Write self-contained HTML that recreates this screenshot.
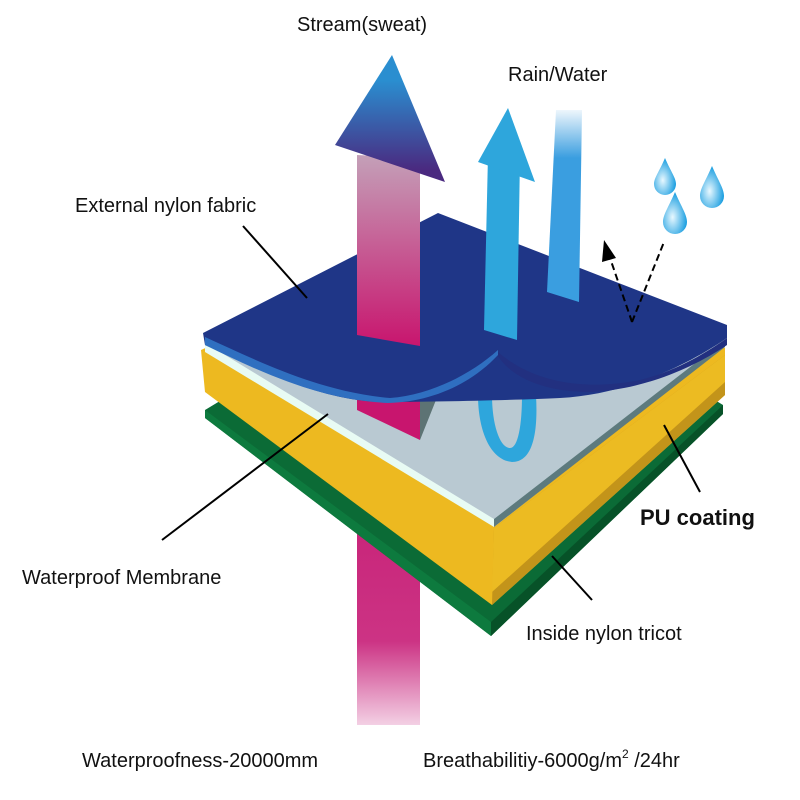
<!DOCTYPE html>
<html><head><meta charset="utf-8"><style>
body{margin:0;background:#fff}
svg{display:block}
text{font-family:"Liberation Sans",Arial,sans-serif;fill:#111}
</style></head><body>
<svg width="800" height="800" viewBox="0 0 800 800" xmlns="http://www.w3.org/2000/svg">
<defs>
<linearGradient id="pk" x1="0" y1="0" x2="0" y2="1">
<stop offset="0" stop-color="#c4a0b8"/><stop offset="1" stop-color="#c8156e"/></linearGradient>
<linearGradient id="pk2" x1="0" y1="390" x2="0" y2="725" gradientUnits="userSpaceOnUse">
<stop offset="0" stop-color="#c4156e"/><stop offset="0.75" stop-color="#cc3384"/><stop offset="1" stop-color="#f3d0e4"/></linearGradient>
<linearGradient id="hd" x1="0" y1="0" x2="0" y2="1">
<stop offset="0.2" stop-color="#2a8ed0"/><stop offset="0.9" stop-color="#4a2a80"/></linearGradient>
<linearGradient id="bl2" x1="0" y1="0" x2="0" y2="1">
<stop offset="0" stop-color="#eef6fc"/><stop offset="0.25" stop-color="#3a9ee0"/><stop offset="1" stop-color="#3a9ee0"/></linearGradient>
<radialGradient id="dr" cx="0.4" cy="0.6" r="0.6">
<stop offset="0" stop-color="#e8f8ff"/><stop offset="1" stop-color="#1a9ee0"/></radialGradient>
</defs>

<!-- pink shaft bottom -->
<rect x="357" y="390" width="63" height="335" fill="url(#pk2)"/>

<!-- green layer -->
<polygon points="205,410 470,250 723,405 723,414 491,636 205,418" fill="#0b6b36"/>
<polygon points="205,410 491,622 723,405 723,412 491,636 205,418" fill="#0d7a3e"/>
<polygon points="491,622 723,405 723,414 491,636" fill="#075228"/>

<!-- yellow layer -->
<polygon points="201,350 470,230 725,348 725,395 492,605 205,392" fill="#edb920"/>
<polygon points="494,528 725,355 725,395 492,605" fill="#c3941a"/>
<polygon points="494,528 725,355 725,382 492,592" fill="#ecbb22"/>

<!-- pink below layers (on top of front faces? no - behind) -->

<!-- membrane -->
<polygon points="205,344 470,235 725,340 725,346 494,527 205,352" fill="#e8fbf4"/>
<polygon points="207,344 470,235 725,340 494,519" fill="#b9c9d2"/>
<polygon points="494,519 725,340 725,347 494,527" fill="#5d7a7e"/>

<!-- pink between layers -->
<polygon points="357,390 420,390 420,440 357,410" fill="#c8156e"/>
<polygon points="420,440 420,390 440,390" fill="#5d7374"/>
<!-- blue loop -->
<path d="M478,395 C478,430 490,460 512,462 C534,462 538,430 536,395 L522,395 C522,425 518,448 510,448 C500,448 492,425 492,395 Z" fill="#2ea6dc"/>

<!-- navy top fabric -->
<path d="M203,333 L438,213 L727,325 L727,338 C680,370 620,395 560,398 C520,400 430,402 380,402 C320,400 260,370 205,345 Z" fill="#1f3687"/>
<path d="M205,337 C260,362 320,392 390,398 C430,395 470,375 498,350 L498,355 C470,385 430,402 388,403 C320,400 260,372 205,345 Z" fill="#2f6fc0"/>
<path d="M498,352 C530,380 580,392 640,380 C680,370 710,350 727,338 L727,345 C690,370 640,390 590,392 C540,392 510,375 498,356Z" fill="#223080"/>

<!-- pink arrow top -->
<polygon points="357,155 420,158 420,346 357,335" fill="url(#pk)"/>
<polygon points="392,55 335,145 445,182" fill="url(#hd)"/>

<!-- blue arrow -->
<polygon points="488,155 520,157 517,340 484,330" fill="#2ea6dc"/>
<polygon points="508,108 478,162 535,182" fill="#2ea6dc"/>
<polygon points="556,110 582,110 579,302 547,292" fill="url(#bl2)"/>

<!-- dashed arrows -->
<line x1="632" y1="322" x2="610" y2="258" stroke="#000" stroke-width="2" stroke-dasharray="7,4"/>
<polygon points="604,240 602,262 616,258" fill="#000"/>
<line x1="632" y1="322" x2="664" y2="242" stroke="#000" stroke-width="2" stroke-dasharray="7,4"/>

<!-- drops -->
<path d="M665,158 C659,172 654,178 654,184 a11,11 0 0 0 22,0 C676,178 671,172 665,158Z" fill="url(#dr)"/>
<path d="M712,166 C705,182 700,189 700,196 a12,12 0 0 0 24,0 C724,189 719,182 712,166Z" fill="url(#dr)"/>
<path d="M675,192 C668,208 663,215 663,222 a12,12 0 0 0 24,0 C687,215 682,208 675,192Z" fill="url(#dr)"/>

<!-- leader lines -->
<g stroke="#000" stroke-width="2">
<line x1="243" y1="226" x2="307" y2="298"/>
<line x1="328" y1="414" x2="162" y2="540"/>
<line x1="664" y1="425" x2="700" y2="492"/>
<line x1="552" y1="556" x2="592" y2="600"/>
</g>

<!-- labels -->
<text x="297" y="31" font-size="20">Stream(sweat)</text>
<text x="508" y="81" font-size="20">Rain/Water</text>
<text x="75" y="212" font-size="20">External nylon fabric</text>
<text x="22" y="584" font-size="20">Waterproof Membrane</text>
<text x="640" y="525" font-size="22" font-weight="bold">PU coating</text>
<text x="526" y="640" font-size="20">Inside nylon tricot</text>
<text x="82" y="767" font-size="20">Waterproofness-20000mm</text>
<text x="423" y="767" font-size="20">Breathabilitiy-6000g/m<tspan font-size="12" dy="-9">2</tspan><tspan dy="9"> /24hr</tspan></text>
</svg>
</body></html>
